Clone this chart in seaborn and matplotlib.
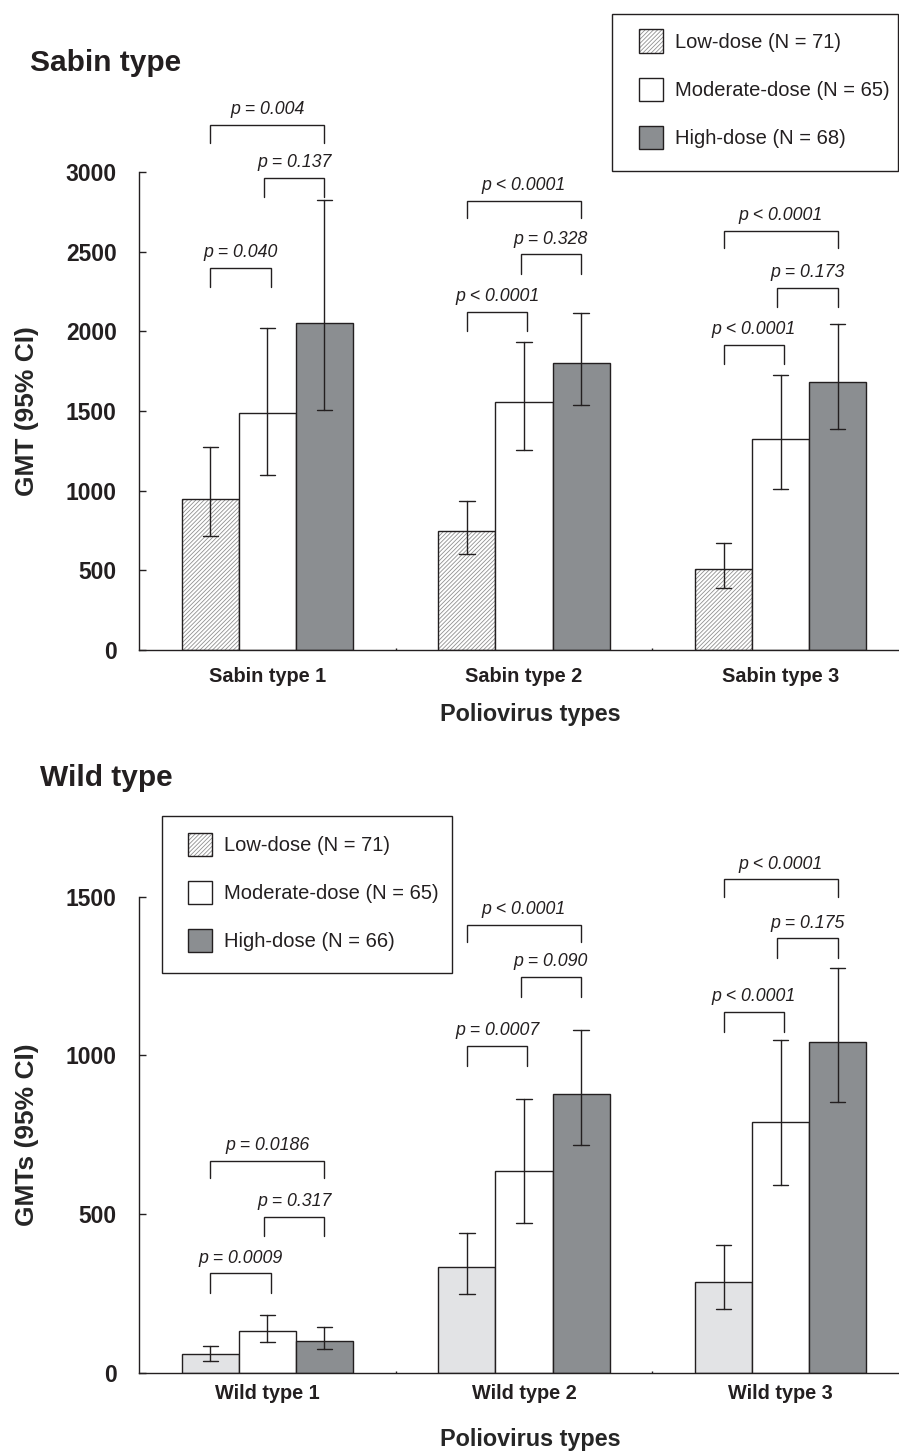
import numpy as np
import pandas as pd
import matplotlib
matplotlib.use("Agg")
import matplotlib.pyplot as plt
import seaborn as sns
from matplotlib.patches import Patch, Rectangle
from matplotlib.colors import to_rgba

# ---------------- data ----------------
doses = ["Low-dose", "Moderate-dose", "High-dose"]
sabin_legend = ["Low-dose (N = 71)", "Moderate-dose (N = 65)", "High-dose (N = 68)"]
wild_legend = ["Low-dose (N = 71)", "Moderate-dose (N = 65)", "High-dose (N = 66)"]

sabin_types = ["Sabin type 1", "Sabin type 2", "Sabin type 3"]
wild_types = ["Wild type 1", "Wild type 2", "Wild type 3"]

sabin_gmt_low = [948, 749, 506]
sabin_gmt_mod = [1486, 1559, 1327]
sabin_gmt_high = [2055, 1802, 1685]
sabin_ci_lower_low = [716, 601, 389]
sabin_ci_upper_low = [1274, 937, 674]
sabin_ci_lower_mod = [1097, 1253, 1011]
sabin_ci_upper_mod = [2021, 1936, 1728]
sabin_ci_lower_high = [1507, 1538, 1389]
sabin_ci_upper_high = [2823, 2118, 2046]

wild_gmt_low = [61, 335, 288]
wild_gmt_mod = [134, 635, 790]
wild_gmt_high = [103, 880, 1041]
wild_ci_lower_low = [40, 249, 203]
wild_ci_upper_low = [87, 440, 404]
wild_ci_lower_mod = [98, 472, 593]
wild_ci_upper_mod = [182, 862, 1048]
wild_ci_lower_high = [77, 719, 852]
wild_ci_upper_high = [146, 1080, 1274]

# comparisons per type: (low vs moderate, moderate vs high, low vs high)
sabin_p_labels = [["p = 0.040", "p = 0.137", "p = 0.004"],
                  ["p < 0.0001", "p = 0.328", "p < 0.0001"],
                  ["p < 0.0001", "p = 0.173", "p < 0.0001"]]
sabin_bracket_top = [[2400, 2965, 3296], [2124, 2484, 2820], [1916, 2275, 2632]]
sabin_bracket_end = [[2277, 2846, 3185], [2003, 2360, 2710], [1793, 2152, 2522]]

wild_p_labels = [["p = 0.0009", "p = 0.317", "p = 0.0186"],
                 ["p = 0.0007", "p = 0.090", "p < 0.0001"],
                 ["p < 0.0001", "p = 0.175", "p < 0.0001"]]
wild_bracket_top = [[315, 493, 668], [1030, 1247, 1410], [1137, 1368, 1554]]
wild_bracket_end = [[252, 432, 613], [968, 1185, 1356], [1075, 1306, 1497]]

sabin_yticks = [0, 500, 1000, 1500, 2000, 2500, 3000]
wild_yticks = [0, 500, 1000, 1500]

# ---------------- style ----------------
DARK = "#231f20"
HIGH = "#8b8e91"
WILD_LOW = "#e2e3e5"
HATCH_C = "#909090"
HATCH = "////////"

sns.set_style("ticks")
plt.rcParams["font.family"] = ["Liberation Sans", "DejaVu Sans"]
plt.rcParams["hatch.linewidth"] = 0.6
plt.rcParams["text.color"] = DARK
plt.rcParams["axes.edgecolor"] = DARK
plt.rcParams["axes.linewidth"] = 1.0

W, H = 899, 1451
fig = plt.figure(figsize=(W / 100, H / 100), dpi=100)


def fx(px):
    return px / W


def fy(py):
    return 1 - py / H


def make_df(types, lo_lists, gmt_lists, hi_lists):
    rows = []
    for d, lo, g, hi in zip(doses, lo_lists, gmt_lists, hi_lists):
        for t, a, b, c in zip(types, lo, g, hi):
            for v in (a, b, c):
                rows.append({"type": t, "dose": d, "value": v})
    return pd.DataFrame(rows)


def set_hatch_color(p, c):
    if hasattr(p, "set_hatchcolor"):
        p.set_hatchcolor(c)
    else:
        p._hatch_color = to_rgba(c)


def draw_panel(ax, df, types, palette, ylim, yticks, ylabel, hatch_low,
               p_labels, b_top, b_end, xtick_pad, xlabel_y):
    sns.barplot(data=df, x="type", y="value", hue="dose", order=types,
                hue_order=doses, estimator="median",
                errorbar=lambda v: (v.min(), v.max()),
                palette=palette, saturation=1, width=0.667, gap=0,
                capsize=0.18, err_kws={"color": DARK, "linewidth": 1.0},
                edgecolor=DARK, linewidth=1.0, legend=False, ax=ax)
    if hatch_low:
        for bar in ax.containers[0]:
            bar.set_hatch(HATCH)
            set_hatch_color(bar, HATCH_C)
    ax.set_xlim(-0.5, 2.5)
    ax.set_ylim(*ylim)
    ax.set_yticks(yticks)
    ax.set_yticklabels([str(t) for t in yticks])
    sns.despine(ax=ax)
    ax.tick_params(axis="y", direction="in", length=4.8, width=1.0, pad=16,
                   labelsize=16.5, colors=DARK)
    ax.tick_params(axis="x", which="major", length=0, pad=xtick_pad,
                   labelsize=14.3, colors=DARK)
    ax.set_xticks([0.5, 1.5], minor=True)
    ax.tick_params(axis="x", which="minor", direction="in", length=1.5,
                   width=1.0, colors=DARK)
    for lbl in ax.get_yticklabels() + ax.get_xticklabels():
        lbl.set_fontweight("bold")
    ax.set_xlabel("Poliovirus types", fontsize=16.8, fontweight="bold")
    ax.xaxis.set_label_coords(0.5078, xlabel_y)
    ax.set_ylabel(ylabel, fontsize=19, fontweight="bold")
    ax.yaxis.set_label_coords(-0.1304, 0.5)

    # significance brackets
    pairs = [(0, 1), (1, 2), (0, 2)]
    for i in range(len(types)):
        bars = [ax.containers[h][i] for h in range(3)]
        cen = [b.get_x() + b.get_width() / 2 for b in bars]
        bw = bars[0].get_width()
        for k, (a, b) in enumerate(pairs):
            x1 = cen[a] - (0.06 * bw if a == 1 else 0)
            x2 = cen[b] + (0.06 * bw if b == 1 else 0)
            top, end = b_top[i][k], b_end[i][k]
            ax.plot([x1, x1, x2, x2], [end, top, top, end], color=DARK,
                    lw=1.0, clip_on=False, solid_joinstyle="miter")
            ax.annotate(p_labels[i][k], xy=((x1 + x2) / 2, top),
                        xytext=(0, 4.8), textcoords="offset points",
                        ha="center", va="bottom", style="italic",
                        fontsize=12.8, color=DARK, annotation_clip=False)


def add_legend(ax, labels, patch_left, patch_top, frame):
    handles = [Patch(facecolor="white", edgecolor=DARK, linewidth=1.0, hatch=HATCH),
               Patch(facecolor="white", edgecolor=DARK, linewidth=1.0),
               Patch(facecolor=HIGH, edgecolor=DARK, linewidth=1.0)]
    set_hatch_color(handles[0], HATCH_C)
    leg = ax.legend(handles, labels, loc="upper left",
                    bbox_to_anchor=(fx(patch_left), fy(patch_top)),
                    bbox_transform=fig.transFigure, frameon=False,
                    borderpad=0, borderaxespad=0, fontsize=14.5,
                    handlelength=1.167, handleheight=1.418,
                    handletextpad=0.6, labelspacing=1.226)
    for t in leg.get_texts():
        t.set_color(DARK)
    x0, y0, x1, y1 = frame
    fig.patches.append(Rectangle((fx(x0), fy(y1)), fx(x1) - fx(x0), fy(y0) - fy(y1),
                                 transform=fig.transFigure, fill=False,
                                 edgecolor=DARK, linewidth=1.0))


# ---------------- top panel (Sabin) ----------------
ax1 = fig.add_axes([fx(139), fy(650), (909 - 139) / W, (650 - 172) / H])
df_s = make_df(sabin_types,
               [sabin_ci_lower_low, sabin_ci_lower_mod, sabin_ci_lower_high],
               [sabin_gmt_low, sabin_gmt_mod, sabin_gmt_high],
               [sabin_ci_upper_low, sabin_ci_upper_mod, sabin_ci_upper_high])
draw_panel(ax1, df_s, sabin_types, ["white", "white", HIGH], (0, 3000),
           sabin_yticks, "GMT (95% CI)", True, sabin_p_labels,
           sabin_bracket_top, sabin_bracket_end, 12, -0.1102)
add_legend(ax1, sabin_legend, 639, 29.5, (612.3, 14, 898, 170.7))

# ---------------- bottom panel (Wild) ----------------
ax2 = fig.add_axes([fx(139), fy(1373.3), (909 - 139) / W, (1373.3 - 896.5) / H])
df_w = make_df(wild_types,
               [wild_ci_lower_low, wild_ci_lower_mod, wild_ci_lower_high],
               [wild_gmt_low, wild_gmt_mod, wild_gmt_high],
               [wild_ci_upper_low, wild_ci_upper_mod, wild_ci_upper_high])
draw_panel(ax2, df_w, wild_types, [WILD_LOW, "white", HIGH], (0, 1500),
           wild_yticks, "GMTs (95% CI)", False, wild_p_labels,
           wild_bracket_top, wild_bracket_end, 7.7, -0.1150)
add_legend(ax2, wild_legend, 188.3, 832.5, (161.7, 816, 452.3, 973.3))

# ---------------- panel titles ----------------
fig.text(fx(30), fy(70.7), "Sabin type", fontsize=21.5, fontweight="bold",
         ha="left", va="baseline", color=DARK)
fig.text(fx(40), fy(786), "Wild type", fontsize=21.5, fontweight="bold",
         ha="left", va="baseline", color=DARK)

fig.savefig("out.png", dpi=100)
